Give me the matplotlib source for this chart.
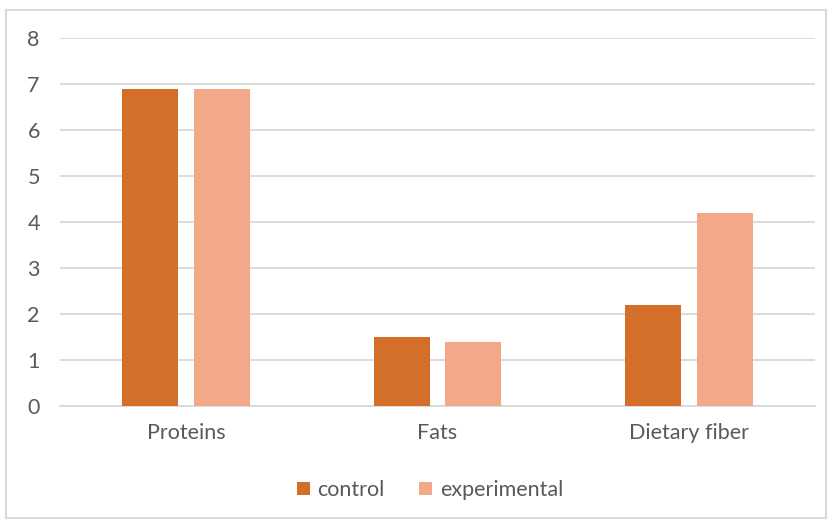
import numpy as np
import matplotlib.pyplot as plt
from matplotlib.patches import Rectangle

categories = ['Proteins', 'Fats', 'Dietary fiber']
control = [6.9, 1.5, 2.2]
experimental = [6.9, 1.4, 4.2]
y_ticks = [0, 1, 2, 3, 4, 5, 6, 7, 8]

plt.rcParams['font.family'] = ['Lato', 'DejaVu Sans']
text_color = '#595959'

fig = plt.figure(figsize=(8.34, 5.22), dpi=100)
fig.patches.append(Rectangle((6 / 834, 4 / 522), 820 / 834, 508 / 522,
                             transform=fig.transFigure, fill=False,
                             edgecolor='#d9d9d9', linewidth=1.5))
ax = fig.add_axes([60 / 834, 116 / 522, 755 / 834, 368 / 522])

x = np.arange(len(categories))
w = 0.2225
off = 0.143
ax.bar(x - off, control, w, color='#d36f2b', label='control', zorder=3)
ax.bar(x + off, experimental, w, color='#f2a889', label='experimental', zorder=3)

ax.set_xlim(-0.5, len(categories) - 0.5)
ax.set_ylim(0, 8)
ax.set_yticks(y_ticks)
ax.set_xticks(x)
ax.set_xticklabels(categories)
ax.yaxis.grid(True, color='#d9d9d9', linewidth=1.3, zorder=0)
ax.tick_params(length=0, labelsize=15.5, colors=text_color)
ax.tick_params(axis='x', pad=12)
ax.tick_params(axis='y', pad=19)
for s in ['top', 'right', 'left']:
    ax.spines[s].set_visible(False)
ax.spines['bottom'].set_color('#d9d9d9')
ax.spines['bottom'].set_linewidth(1.3)
# tick labels are right-aligned by default; centre them in the left margin
for lbl in ax.get_yticklabels():
    lbl.set_horizontalalignment('center')

leg = fig.legend(loc='center', bbox_to_anchor=(430 / 834, 1 - 490 / 522), ncol=2,
                 frameon=False, fontsize=15.5, handlelength=0.6, handleheight=0.6,
                 handletextpad=0.35, columnspacing=1.6)
for t in leg.get_texts():
    t.set_color(text_color)

fig.savefig('out.png', dpi=100)
